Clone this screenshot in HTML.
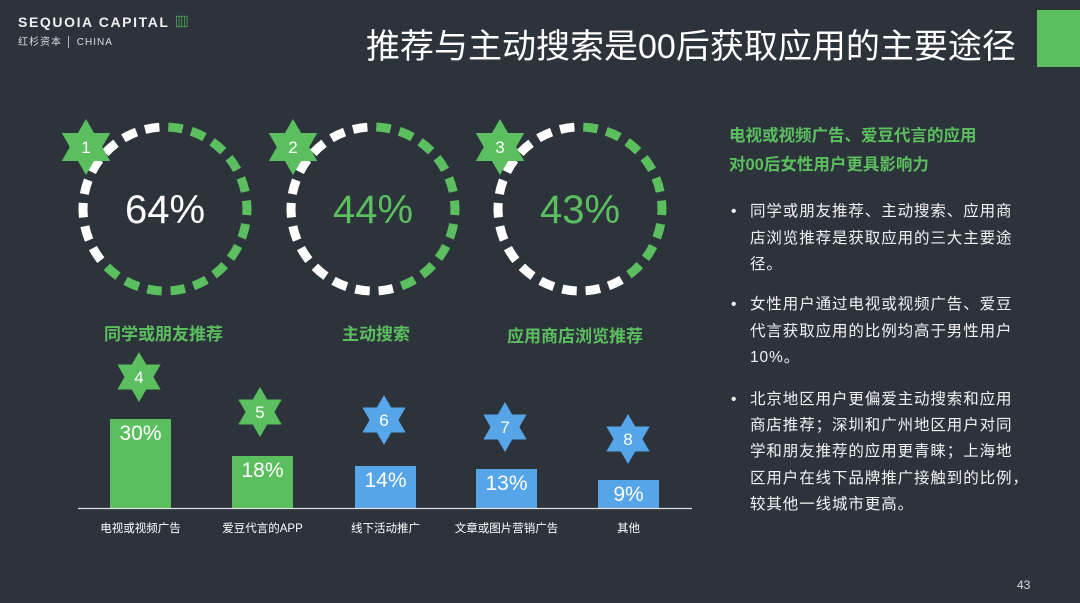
<!DOCTYPE html>
<html><head><meta charset="utf-8"><style>
html,body{margin:0;padding:0;}
body{width:1080px;height:603px;background:#2c333b;position:relative;overflow:hidden;font-family:"Liberation Sans","Noto Sans CJK SC",sans-serif;color:#fff;}
.a{position:absolute;white-space:nowrap;}
.b{position:absolute;left:731px;font-size:15.5px;letter-spacing:0.9px;line-height:26.5px;color:#f2f2f2;}
.b i{position:absolute;left:0;top:0;font-style:normal;}
.b div{padding-left:19px;white-space:nowrap;}
</style></head><body>
<div class="a" style="left:18px;top:12px;font-size:14px;font-weight:bold;letter-spacing:1.6px;color:#f0f0f0">SEQUOIA CAPITAL <span style="color:#5cbf5f">▥</span></div>
<div class="a" style="left:18px;top:33px;font-size:10px;letter-spacing:1px;color:#ddd">红杉资本 │ CHINA</div>
<div class="a" style="left:366px;top:19px;font-size:34px;color:#fff">推荐与主动搜索是00后获取应用的主要途径</div>
<div class="a" style="left:1037px;top:10px;width:43px;height:57px;background:#5cbf5f"></div>

<svg id="s" class="a" style="left:0;top:0" width="1080" height="603"></svg>

<div class="a" style="left:104px;top:320px;font-size:17px;font-weight:bold;color:#5cbf5f">同学或朋友推荐</div>
<div class="a" style="left:342px;top:320px;font-size:17px;font-weight:bold;color:#5cbf5f">主动搜索</div>
<div class="a" style="left:507px;top:322px;font-size:17px;font-weight:bold;color:#5cbf5f">应用商店浏览推荐</div>

<div class="a" style="left:729px;top:122px;font-size:16.5px;font-weight:bold;color:#5cbf5f;line-height:29px">电视或视频广告、爱豆代言的应用<br>对00后女性用户更具影响力</div>
<div class="b" style="top:199px"><i>•</i><div>同学或朋友推荐、主动搜索、应用商<br>店浏览推荐是获取应用的三大主要途<br>径。</div></div>
<div class="b" style="top:292px"><i>•</i><div>女性用户通过电视或视频广告、爱豆<br>代言获取应用的比例均高于男性用户<br>10%。</div></div>
<div class="b" style="top:387px"><i>•</i><div style="line-height:26.2px">北京地区用户更偏爱主动搜索和应用<br>商店推荐；深圳和广州地区用户对同<br>学和朋友推荐的应用更青睐；上海地<br>区用户在线下品牌推广接触到的比例，<br>较其他一线城市更高。</div></div>
<div class="a" style="left:1017px;top:578px;font-size:12px;color:#ddd">43</div>

<script>
var s=document.getElementById('s'),h='';
var G='#5cbf5f',B='#56a5e8';
function ring(cx,cy,p){var n=22,r=82;for(var i=0;i<n;i++){var a0=(i/n)*2*Math.PI+0.04,a1=a0+2*Math.PI/n*0.62;
 var f=(i+0.5)/n;var c=f<p?G:'#fff';
 var x0=cx+r*Math.sin(a0),y0=cy-r*Math.cos(a0),x1=cx+r*Math.sin(a1),y1=cy-r*Math.cos(a1);
 h+='<path d="M'+x0+' '+y0+' A'+r+' '+r+' 0 0 1 '+x1+' '+y1+'" stroke="'+c+'" stroke-width="9" fill="none"/>';}}
function star(cx,cy,r,c,t,fs){var p1=[],p2=[];for(var k=0;k<3;k++){var a=k*2*Math.PI/3;p1.push((cx+r*Math.sin(a))+','+(cy-r*Math.cos(a)));
 var b=a+Math.PI;p2.push((cx+r*Math.sin(b))+','+(cy-r*Math.cos(b)));}
 h+='<polygon points="'+p1.join(' ')+'" fill="'+c+'"/><polygon points="'+p2.join(' ')+'" fill="'+c+'"/>';
 h+='<text x="'+cx+'" y="'+(cy+fs*0.36)+'" text-anchor="middle" font-size="'+fs+'" fill="#fff" font-family="Liberation Sans,sans-serif">'+t+'</text>';}
ring(165,209,0.64);ring(373,209,0.44);ring(580,209,0.43);
h+='<text x="165" y="223" text-anchor="middle" font-size="40" fill="#fff" font-family="Liberation Sans,sans-serif">64%</text>';
h+='<text x="373" y="223" text-anchor="middle" font-size="40" fill="'+G+'" font-family="Liberation Sans,sans-serif">44%</text>';
h+='<text x="580" y="223" text-anchor="middle" font-size="40" fill="'+G+'" font-family="Liberation Sans,sans-serif">43%</text>';
star(86,147,28,G,'1',17);star(293,147,28,G,'2',17);star(500,147,28,G,'3',17);
var bars=[[110,419,G,'30%','电视或视频广告'],[232,456,G,'18%','爱豆代言的APP'],[355,466,B,'14%','线下活动推广'],[476,469,B,'13%','文章或图片营销广告'],[598,480,B,'9%','其他']];
bars.forEach(function(b){h+='<rect x="'+b[0]+'" y="'+b[1]+'" width="61" height="'+(508-b[1])+'" fill="'+b[2]+'"/>';
 h+='<text x="'+(b[0]+30.5)+'" y="'+(b[1]+21)+'" text-anchor="middle" font-size="21" fill="#fff" font-family="Liberation Sans,sans-serif">'+b[3]+'</text>';
 h+='<text x="'+(b[0]+30.5)+'" y="532" text-anchor="middle" font-size="11.5" fill="#fff" font-family="Liberation Sans,Noto Sans CJK SC,sans-serif">'+b[4]+'</text>';});
h+='<line x1="78" y1="508.5" x2="692" y2="508.5" stroke="#e0e0e0" stroke-width="1.2"/>';
star(139,377,25,G,'4',17);star(260,412,25,G,'5',17);star(384,420,25,B,'6',17);star(505,427,25,B,'7',17);star(628,439,25,B,'8',17);
s.innerHTML=h;
</script>
</body></html>
